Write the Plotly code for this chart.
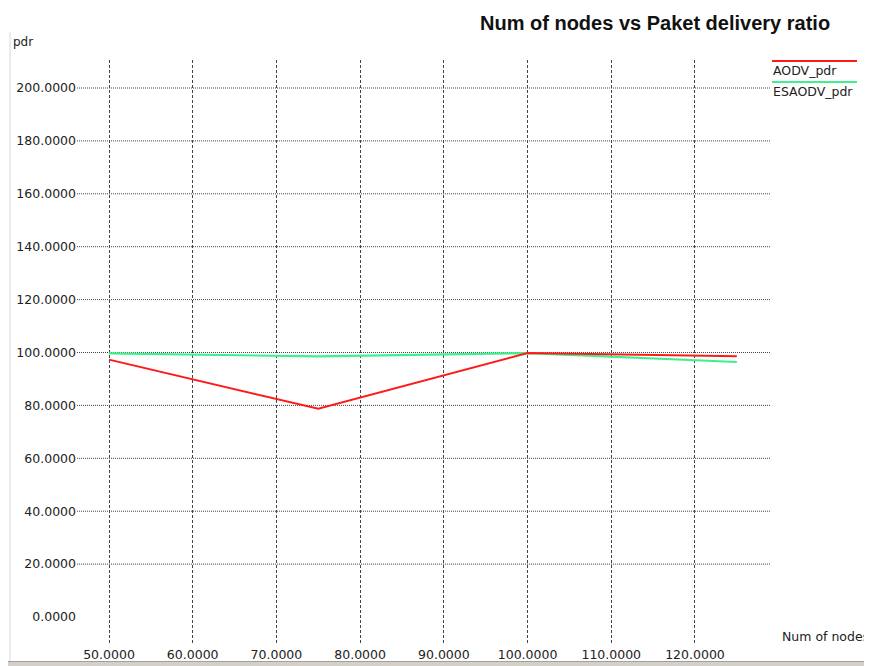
import plotly.graph_objects as go

# ---- data ----
num_nodes = [50, 75, 100, 125]
aodv_pdr = [97.3, 78.7, 99.8, 98.6]
esaodv_pdr = [99.7, 98.5, 99.8, 96.4]

x_ticks = [50, 60, 70, 80, 90, 100, 110, 120]
y_ticks = [0, 20, 40, 60, 80, 100, 120, 140, 160, 180, 200]
y_grid = [20, 40, 60, 80, 100, 120, 140, 160, 180, 200]

title_text = "Num of nodes vs Paket delivery ratio"
x_title = "Num of nodes"
y_title = "pdr"
series_names = ["AODV_pdr", "ESAODV_pdr"]
series_colors = ["#ff1a1a", "#3ef08e"]

# ---- layout geometry (window pixels; page body has an 8px margin) ----
OFF = 8
W, H = 872 - OFF, 666 - OFF
L, R, T, B = 77, 770, 60, 645  # plot area in window pixels


def px(x):
    return (x - L) / (R - L)


def py(y):
    return (B - y) / (B - T)


FONT = "DejaVu Sans, Verdana, sans-serif"
TFONT = "Liberation Sans, Arial, sans-serif"
TXT = "#222222"

fig = go.Figure()
fig.add_trace(go.Scatter(x=num_nodes, y=esaodv_pdr, mode="lines",
                         line=dict(color=series_colors[1], width=2.2),
                         name=series_names[1], showlegend=False))
fig.add_trace(go.Scatter(x=num_nodes, y=aodv_pdr, mode="lines",
                         line=dict(color=series_colors[0], width=2),
                         name=series_names[0], showlegend=False))

shapes = []
for g in y_grid:
    shapes.append(dict(type="line", xref="paper", yref="y", x0=0, x1=1, y0=g, y1=g,
                       line=dict(color="#444444", width=1, dash="1px,1px"), layer="below"))
shapes.append(dict(type="line", xref="paper", yref="paper", x0=px(10), x1=px(10),
                   y0=py(32), y1=py(661), line=dict(color="#d8d8d8", width=1)))
shapes.append(dict(type="rect", xref="paper", yref="paper", x0=px(0), x1=px(880),
                   y0=py(661), y1=py(670), line=dict(width=0), fillcolor="#d4d0c8"))
shapes.append(dict(type="line", xref="paper", yref="paper", x0=px(0), x1=px(880),
                   y0=py(661.5), y1=py(661.5), line=dict(color="#a0a0a0", width=1)))
shapes.append(dict(type="line", xref="paper", yref="paper", x0=px(772), x1=px(857),
                   y0=py(61), y1=py(61), line=dict(color=series_colors[0], width=2)))
shapes.append(dict(type="line", xref="paper", yref="paper", x0=px(772), x1=px(857),
                   y0=py(82), y1=py(82), line=dict(color=series_colors[1], width=2)))

annotations = [
    dict(text=title_text, xref="paper", yref="paper", x=px(832), y=py(23),
         xanchor="right", yanchor="middle", showarrow=False,
         font=dict(family=TFONT, size=20, color="#111111", weight="bold")),
    dict(text=y_title, xref="paper", yref="paper", x=px(11), y=py(42),
         xanchor="left", yanchor="middle", showarrow=False,
         font=dict(family=FONT, size=12, color=TXT)),
    dict(text=x_title, xref="paper", yref="paper", x=px(780), y=py(636),
         xanchor="left", yanchor="middle", showarrow=False,
         font=dict(family=FONT, size=12.5, color=TXT)),
    dict(text=series_names[0], xref="paper", yref="paper", x=px(771), y=py(70),
         xanchor="left", yanchor="middle", showarrow=False,
         font=dict(family=FONT, size=12.5, color=TXT)),
    dict(text=series_names[1], xref="paper", yref="paper", x=px(771), y=py(91),
         xanchor="left", yanchor="middle", showarrow=False,
         font=dict(family=FONT, size=12.5, color=TXT)),
]

x_lo = 50 - (109 - L) / 8.371
x_hi = 50 + (R - 109) / 8.371
y_lo = -(B - 617) / 2.645
y_hi = 200 + (88 - T) / 2.645

fig.update_layout(
    width=W, height=H,
    margin=dict(l=L - OFF, r=872 - R, t=T - OFF, b=666 - B, pad=0, autoexpand=False),
    paper_bgcolor="white", plot_bgcolor="white",
    showlegend=False,
    shapes=shapes, annotations=annotations,
    xaxis=dict(range=[x_lo, x_hi], tickvals=x_ticks, automargin=False,
               ticktext=[f"{v:.4f}" for v in x_ticks],
               showgrid=True, gridcolor="#444444", gridwidth=1, griddash="3px,2px",
               zeroline=False, showline=False, ticks="",
               tickfont=dict(family=FONT, size=12.5, color=TXT)),
    yaxis=dict(range=[y_lo, y_hi], tickvals=y_ticks, automargin=False,
               ticktext=[f"{v:.4f}" for v in y_ticks],
               showgrid=False, zeroline=False, showline=False, ticks="",
               ticklabelstandoff=0,
               tickfont=dict(family=FONT, size=12.5, color=TXT)),
    font=dict(family=FONT),
)

fig.write_html("out.html")
